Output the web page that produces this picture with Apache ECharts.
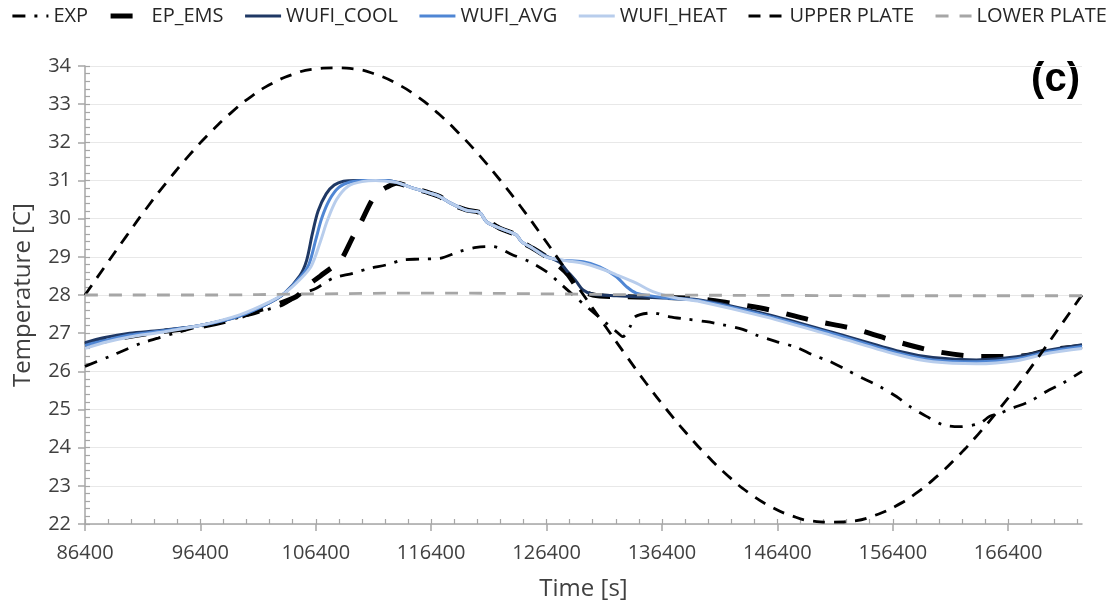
<!DOCTYPE html>
<html><head><meta charset="utf-8">
<script src="https://cdn.jsdelivr.net/npm/echarts@6/dist/echarts.min.js"></script>
<style>html,body{margin:0;padding:0;background:#fff}#c{width:1118px;height:606px}</style>
</head><body><div id="c"></div>
<script>
// ---- data (time in seconds, temperature in C) ----
const xTickLabels = [86400, 96400, 106400, 116400, 126400, 136400, 146400, 156400, 166400];
const yTickLabels = [22, 23, 24, 25, 26, 27, 28, 29, 30, 31, 32, 33, 34];

const expT = [86400, 88540, 89860, 91300, 92740, 94180, 96360, 98090, 100690, 102120, 103560, 105010, 106450, 107890, 109620, 111070, 112520, 113960, 115400, 117140, 118870, 120320, 121730, 123470, 124940, 126390, 127550, 128850, 129850, 130720, 131590, 132450, 133000, 133640, 134060, 135600, 137070, 138520, 140250, 141660, 143400, 144580, 146320, 148050, 149460, 150940, 152380, 153800, 155270, 156720, 157870, 159320, 160730, 162200, 163940, 164810, 165670, 166800, 168270, 169720, 171130, 172800];
const expV = [26.13, 26.39, 26.56, 26.74, 26.87, 27.0, 27.18, 27.3, 27.48, 27.61, 27.74, 28.0, 28.18, 28.44, 28.57, 28.7, 28.79, 28.92, 28.94, 28.96, 29.14, 29.25, 29.27, 29.05, 28.87, 28.61, 28.31, 27.96, 27.7, 27.48, 27.26, 27.04, 26.91, 27.17, 27.43, 27.53, 27.43, 27.37, 27.3, 27.22, 27.1, 26.95, 26.78, 26.63, 26.43, 26.26, 26.04, 25.82, 25.6, 25.34, 25.08, 24.82, 24.6, 24.55, 24.64, 24.82, 24.9, 25.04, 25.21, 25.47, 25.69, 26.0];

const emsT = [86400, 89000, 92000, 96000, 99000, 101540, 102500, 104720, 105590, 106800, 107890, 108500, 109630, 110210, 111360, 112000, 112520, 113390, 114830, 116270, 117140, 118000, 119450, 120600, 121470, 122340, 123790, 124220, 125220, 126380, 127550, 128270, 129120, 130420, 132450, 136000, 139670, 142270, 145740, 149490, 153100, 156720, 160180, 163940, 167550, 170000, 172800];
const emsV = [26.7, 26.85, 27.0, 27.15, 27.35, 27.61, 27.7, 27.96, 28.22, 28.5, 28.74, 28.87, 29.53, 29.84, 30.53, 30.72, 30.82, 30.93, 30.8, 30.67, 30.58, 30.4, 30.23, 30.16, 29.92, 29.75, 29.57, 29.4, 29.22, 29.0, 28.74, 28.53, 28.18, 28.0, 27.96, 27.94, 27.9, 27.79, 27.61, 27.33, 27.11, 26.78, 26.52, 26.39, 26.4, 26.56, 26.66];

const coolT = [86400, 88000, 90270, 92870, 96340, 99800, 102400, 103700, 105010, 105600, 106100, 106600, 107300, 108000, 108800, 109900, 112520, 113390, 114830, 116270, 117140, 118000, 119450, 120600, 121190, 122340, 123790, 124220, 125220, 126380, 127550, 128120, 128990, 129560, 130420, 132450, 136000, 139670, 145450, 151220, 157020, 159880, 163650, 167120, 170000, 172800];
const coolV = [26.75, 26.88, 27.0, 27.07, 27.2, 27.45, 27.8, 28.05, 28.5, 28.9, 29.6, 30.2, 30.65, 30.88, 30.98, 31.0, 31.0, 30.95, 30.8, 30.67, 30.58, 30.42, 30.22, 30.16, 29.92, 29.75, 29.57, 29.4, 29.22, 29.02, 28.85, 28.65, 28.35, 28.13, 28.02, 27.98, 27.93, 27.87, 27.5, 27.02, 26.52, 26.36, 26.3, 26.38, 26.56, 26.7];

const avgT = [86400, 88000, 90270, 92870, 96340, 99800, 102400, 103700, 105010, 105800, 106400, 106900, 107600, 108400, 109400, 110500, 112520, 113390, 114830, 116270, 117140, 118000, 119450, 120600, 121190, 122340, 123790, 124220, 125220, 126380, 127550, 129560, 131000, 132450, 133320, 134180, 136780, 139670, 145450, 151220, 157020, 159880, 163650, 167120, 170000, 172800];
const avgV = [26.68, 26.8, 26.95, 27.05, 27.2, 27.45, 27.8, 28.05, 28.45, 28.8, 29.45, 30.0, 30.5, 30.82, 30.96, 31.0, 31.0, 30.95, 30.8, 30.67, 30.58, 30.42, 30.22, 30.16, 29.92, 29.75, 29.57, 29.4, 29.22, 29.0, 28.92, 28.87, 28.74, 28.48, 28.22, 28.05, 27.92, 27.85, 27.46, 26.98, 26.47, 26.3, 26.25, 26.33, 26.52, 26.65];

const heatT = [86400, 88000, 90270, 92870, 96340, 99800, 102400, 103700, 105010, 106000, 106800, 107400, 108200, 109200, 110400, 111600, 112520, 113390, 114830, 116270, 117140, 118000, 119450, 120600, 121190, 122340, 123790, 124220, 125220, 126380, 127550, 129560, 131000, 132450, 134180, 135620, 137650, 139670, 145450, 151220, 157020, 159880, 163650, 167120, 170000, 172800];
const heatV = [26.6, 26.75, 26.9, 27.02, 27.2, 27.48, 27.82, 28.05, 28.4, 28.75, 29.4, 29.95, 30.5, 30.85, 30.97, 31.0, 30.98, 30.95, 30.8, 30.67, 30.58, 30.42, 30.22, 30.16, 29.92, 29.75, 29.57, 29.4, 29.22, 29.0, 28.92, 28.83, 28.7, 28.53, 28.31, 28.09, 27.92, 27.83, 27.42, 26.93, 26.42, 26.25, 26.2, 26.28, 26.48, 26.6];

const upperT = [86400, 88200, 90000, 91800, 93600, 95400, 97200, 99000, 100800, 102600, 104400, 106200, 108000, 109800, 111600, 113400, 115200, 117000, 118800, 120600, 122400, 124200, 126000, 127800, 129600, 131400, 133200, 135000, 136800, 138600, 140400, 142200, 144000, 145800, 147600, 149400, 151200, 153000, 154800, 156600, 158400, 160200, 162000, 163800, 165600, 167400, 169200, 171000, 172800];
const upperV = [28.0, 28.78, 29.55, 30.3, 31.0, 31.65, 32.24, 32.76, 33.2, 33.54, 33.78, 33.92, 33.95, 33.92, 33.78, 33.54, 33.2, 32.76, 32.24, 31.65, 31.0, 30.3, 29.55, 28.78, 28.0, 27.22, 26.45, 25.7, 25.0, 24.35, 23.76, 23.24, 22.8, 22.46, 22.22, 22.08, 22.05, 22.08, 22.22, 22.46, 22.8, 23.24, 23.76, 24.35, 25.0, 25.7, 26.45, 27.22, 28.0];

const lowerT = [86400, 96400, 106400, 116400, 126400, 136400, 146400, 156400, 166400, 172800];
const lowerV = [28.0, 28.0, 28.03, 28.05, 28.03, 28.0, 27.99, 27.98, 27.98, 27.98];

// ---- chart ----
const XMIN = 86400, XMAX = 172800, YMIN = 22, YMAX = 34;
const pairs = (t, v) => t.map((x, i) => [x, v[i]]);
const minorX = []; for (let k = 0; XMIN + k * 2000 <= XMAX; k++) minorX.push(XMIN + k * 2000);
const minorY = []; for (let k = 0; k <= 60; k++) minorY.push(Math.round((YMIN + k * 0.2) * 10) / 10);

const FONT = 'Open Sans';
const axisGray = '#a6a6a6';
const txt = '#404040';

function line(name, t, v, color, width, type, smooth) {
  return {
    name, type: 'line', data: pairs(t, v), showSymbol: false, symbol: 'none',
    smooth: smooth, xAxisIndex: 0, yAxisIndex: 0,
    lineStyle: { color, width, type },
    itemStyle: { color },
    emphasis: { disabled: true }
  };
}

const chart = echarts.init(document.getElementById('c'), null, { renderer: 'canvas' });
chart.setOption({
  animation: false,
  backgroundColor: '#ffffff',
  textStyle: { fontFamily: FONT },
  legend: {
    top: 1, left: 6, right: 0, itemWidth: 36, itemHeight: 14, itemGap: 20,
    itemStyle: { opacity: 0, color: 'rgba(0,0,0,0)', borderColor: 'rgba(0,0,0,0)', borderWidth: 0 },
    textStyle: { fontFamily: FONT, fontSize: 20, color: '#262626' },
    data: [
      { name: 'EXP', lineStyle: { width: 2.8 } },
      { name: 'EP_EMS', lineStyle: { width: 5 } },
      { name: 'WUFI_COOL', lineStyle: { width: 3 } },
      { name: 'WUFI_AVG', lineStyle: { width: 3 } },
      { name: 'WUFI_HEAT', lineStyle: { width: 3 } },
      { name: 'UPPER PLATE', lineStyle: { width: 3 } },
      { name: 'LOWER PLATE', lineStyle: { width: 3 } }
    ]
  },
  grid: { left: 85, right: 36, top: 66, bottom: 82 },
  xAxis: [{
    type: 'value', min: XMIN, max: XMAX, position: 'bottom',
    name: 'Time [s]', nameLocation: 'middle', nameGap: 53,
    nameTextStyle: { fontFamily: FONT, fontSize: 24, color: txt },
    axisLine: { show: true, lineStyle: { color: axisGray, width: 1.5 } },
    axisTick: { show: true, customValues: xTickLabels, length: 7, lineStyle: { color: axisGray, width: 1.5 } },
    axisLabel: { customValues: xTickLabels, margin: 19, fontFamily: FONT, fontSize: 20, color: txt, formatter: v => String(v) },
    splitLine: { show: false }
  }, {
    type: 'value', min: XMIN, max: XMAX, position: 'bottom',
    axisLine: { show: false },
    axisTick: { show: true, inside: true, customValues: minorX, length: 5, lineStyle: { color: axisGray, width: 1.2 } },
    axisLabel: { show: false, customValues: minorX },
    splitLine: { show: false }
  }],
  yAxis: [{
    type: 'value', min: YMIN, max: YMAX, interval: 1, position: 'left',
    name: 'Temperature [C]', nameLocation: 'middle', nameGap: 50,
    nameTextStyle: { fontFamily: FONT, fontSize: 24, color: txt },
    axisLine: { show: true, lineStyle: { color: axisGray, width: 1.5 } },
    axisTick: { show: true, length: 7, lineStyle: { color: axisGray, width: 1.5 } },
    axisLabel: { margin: 14, fontFamily: FONT, fontSize: 20, color: txt, formatter: v => String(v) },
    splitLine: { show: true, lineStyle: { color: '#e8e8e8', width: 1.2 } }
  }, {
    type: 'value', min: YMIN, max: YMAX, position: 'left',
    axisLine: { show: false },
    axisTick: { show: true, inside: true, customValues: minorY, length: 5, lineStyle: { color: axisGray, width: 1.2 } },
    axisLabel: { show: false, customValues: minorY },
    splitLine: { show: false }
  }],
  graphic: [{
    type: 'text', right: 38, top: 60,
    style: { text: '(c)', font: 'bold 40px "Liberation Sans", Arial, sans-serif', fill: '#000' }
  }],
  series: [
    line('EXP', expT, expV, '#000000', 2.8, [13, 9, 3, 9], 0.3),
    line('EP_EMS', emsT, emsV, '#000000', 5, [22, 18], 0.3),
    line('WUFI_COOL', coolT, coolV, '#1f3864', 3, 'solid', 0.3),
    line('WUFI_AVG', avgT, avgV, '#4f86d4', 3, 'solid', 0.3),
    line('WUFI_HEAT', heatT, heatV, '#b8cdec', 3, 'solid', 0.3),
    line('UPPER PLATE', upperT, upperV, '#000000', 2.8, [12, 9], true),
    line('LOWER PLATE', lowerT, lowerV, '#a6a6a6', 2.8, [13, 11], true)
  ]
});
</script>
</body></html>
